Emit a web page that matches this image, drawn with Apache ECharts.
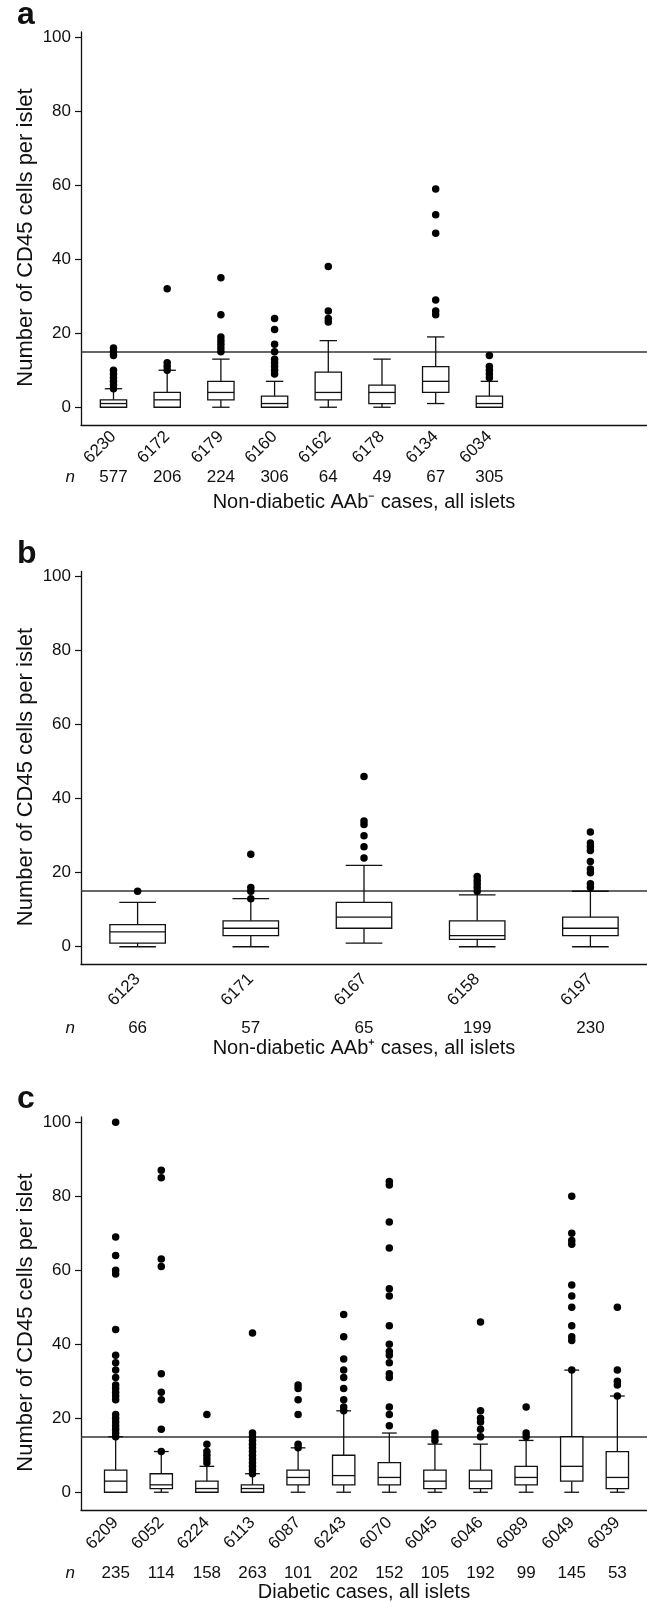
<!DOCTYPE html>
<html><head><meta charset="utf-8">
<script src="https://cdn.jsdelivr.net/npm/echarts@6/dist/echarts.min.js"></script>
<style>html,body{margin:0;padding:0;background:#fff}#c{width:647px;height:1602px}</style>
</head><body><div id="c"></div>
<script>
// ---------- DATA ----------
// box = [lower whisker, Q1, median, Q3, upper whisker]
const casesA = ['6230','6172','6179','6160','6162','6178','6134','6034'];
const nA = [577,206,224,306,64,49,67,305];
const boxesA = [
  [0,0,1,2,5],[0,0,2,4,10],[0,2,4,7,13],[0,0,1,3,7],
  [0,2,4,9.5,18],[0,1,4,6,13],[1,4,7,11,19],[0,0,1,3,7]
];
const outliersA = [
  [5,6,7,8,9,10,14,15,16],[10,11,12,32],[15,16,17,18,19,25,35],[9,10,11,12,13,15,17,21,24],
  [23,24,26,38],[],[25,26,29,47,52,59],[8,9,10,11,14]
];
const titleA = 'Non-diabetic AAb\u207B cases, all islets';

const casesB = ['6123','6171','6167','6158','6197'];
const nB = [66,57,65,199,230];
const boxesB = [[0,1,4,6,12],[0,3,5,7,13],[1,5,8,12,22],[0,2,3,7,14],[0,3,5,8,15]];
const outliersB = [
  [15],[13,15,16,25],[24,27,30,33,34,46],[15,16,17,18,19],[16,17,20,21,23,26,27,28,31]
];
const titleB = 'Non-diabetic AAb\u207A cases, all islets';

const casesC = ['6209','6052','6224','6113','6087','6243','6070','6045','6046','6089','6049','6039'];
const nC = [235,114,158,263,101,202,152,105,192,99,145,53];
const boxesC = [
  [0,0,3,6,15],[0,1,2,5,11],[0,0,1,3,7],[0,0,1,2,5],[0,2,4,6,12],[0,2,4.5,10,22],
  [0,2,4,8,16],[0,1,3,6,13],[0,1,3,6,13],[0,2,4,7,14],[0,3,7,15,33],[0,1,4,11,26]
];
const outliersC = [
  [15,16,17,18,19,20,21,25,26,27,28,29,31,33,35,37,44,59,60,64,69,100],
  [11,17,25,27,32,61,63,85,87],
  [8,9,10,11,13,21],
  [5,6,7,8,9,10,11,12,13,14,15,16,43],
  [12,13,21,25,28,29],
  [22,23,25,28,31,33,36,42,48],
  [18,21,23,31,32,35,37,38,40,45,53,55,66,73,83,84],
  [14,15,16],
  [15,17,19,20,22,46],
  [15,16,23],
  [33,41,42,45,50,53,56,67,68,70,80],
  [26,29,30,33,50]
];
const titleC = 'Diabetic cases, all islets';

const yTicks = [0,20,40,60,80,100];
const threshold = 15;
const yName = 'Number of CD45 cells per islet';
const letters = ['a','b','c'];

// ---------- LAYOUT ----------
const FF = '"Liberation Sans", Arial, Helvetica, sans-serif';
const INK = '#111';
const panels = [
  {cases:casesA, n:nA, boxes:boxesA, out:outliersA, title:titleA,
   top:32, xMin:0.395, xMax:10.935, idMargin:9, nOffset:52, titleGap:67, letterY:15.5},
  {cases:casesB, n:nB, boxes:boxesB, out:outliersB, title:titleB,
   top:571.5, xMin:0.5, xMax:5.5, idMargin:12, nOffset:64, titleGap:74, letterY:553.8},
  {cases:casesC, n:nC, boxes:boxesC, out:outliersC, title:titleC,
   top:1117, xMin:0.24, xMax:12.65, idMargin:10, nOffset:63, titleGap:72, letterY:1098.8}
];

function renderBox(params, api) {
  const x = api.value(0);
  const lo = api.coord([x, api.value(1)]);
  const q1 = api.coord([x, api.value(2)]);
  const med = api.coord([x, api.value(3)]);
  const q3 = api.coord([x, api.value(4)]);
  const hi = api.coord([x, api.value(5)]);
  const band = api.size([1, 0])[0];
  const w = band * 0.49, hw = w / 2, cw = w * 0.33;
  const cx = lo[0];
  const st = {stroke: INK, lineWidth: 1.3, fill: null};
  return {type: 'group', children: [
    {type: 'line', shape: {x1: cx, y1: hi[1], x2: cx, y2: q3[1]}, style: st},
    {type: 'line', shape: {x1: cx, y1: q1[1], x2: cx, y2: lo[1]}, style: st},
    {type: 'line', shape: {x1: cx - cw, y1: hi[1], x2: cx + cw, y2: hi[1]}, style: st},
    {type: 'line', shape: {x1: cx - cw, y1: lo[1], x2: cx + cw, y2: lo[1]}, style: st},
    {type: 'rect', shape: {x: cx - hw, y: q3[1], width: w, height: q1[1] - q3[1]},
     style: {stroke: INK, lineWidth: 1.3, fill: '#fff'}},
    {type: 'line', shape: {x1: cx - hw, y1: med[1], x2: cx + hw, y2: med[1]}, style: st}
  ]};
}

const grid = [], xAxis = [], yAxis = [], series = [], graphic = [];
panels.forEach((p, k) => {
  grid.push({left: 81, right: 0, top: p.top, height: 393, outerBoundsMode: 'none', containLabel: false});
  const idx = (i) => p.cases[Math.round(i) - 1] || '';
  const nIdx = (i) => { const v = p.n[Math.round(i) - 1]; return v == null ? '' : String(v); };
  const xs = p.cases.map((c, i) => i + 1);
  xAxis.push({
    type: 'value', gridIndex: k, min: p.xMin, max: p.xMax, position: 'bottom',
    splitLine: {show: false}, axisTick: {show: false},
    axisLine: {show: true, onZero: false, lineStyle: {color: INK, width: 1.3}},
    axisLabel: {customValues: xs, formatter: idx, rotate: 45, margin: p.idMargin,
      fontSize: 17, color: INK, fontFamily: FF, hideOverlap: false, showMinLabel: true, showMaxLabel: true},
    name: p.title, nameLocation: 'middle', nameGap: p.titleGap, nameMoveOverlap: false,
    nameTextStyle: {fontSize: 20, color: INK, fontFamily: FF}
  });
  xAxis.push({
    type: 'value', gridIndex: k, min: p.xMin, max: p.xMax, position: 'bottom', offset: p.nOffset,
    splitLine: {show: false}, axisTick: {show: false}, axisLine: {show: false, onZero: false},
    axisLabel: {customValues: xs, formatter: nIdx, margin: 0, verticalAlign: 'middle',
      fontSize: 17, color: INK, fontFamily: FF, hideOverlap: false, showMinLabel: true, showMaxLabel: true},
    name: 'n', nameLocation: 'start', nameGap: 6, nameMoveOverlap: false,
    nameTextStyle: {fontSize: 17, fontStyle: 'italic', color: INK, fontFamily: FF, verticalAlign: 'middle'}
  });
  yAxis.push({
    type: 'value', gridIndex: k, min: -4.8, max: 101.4,
    splitLine: {show: false},
    axisLine: {show: true, onZero: false, lineStyle: {color: INK, width: 1.3}},
    axisTick: {show: true, length: 6, customValues: yTicks, lineStyle: {color: INK, width: 1.2}},
    axisLabel: {customValues: yTicks, margin: 10, fontSize: 17, color: INK, fontFamily: FF,
      showMinLabel: true, showMaxLabel: true},
    name: yName, nameLocation: 'middle', nameGap: 44, nameMoveOverlap: false,
    nameTextStyle: {fontSize: 22, color: INK, fontFamily: FF, padding: [0, 18, 0, 0]}
  });
  series.push({
    type: 'custom', xAxisIndex: k * 2, yAxisIndex: k, renderItem: renderBox,
    encode: {x: 0, y: [1, 2, 3, 4, 5]}, silent: true, z: 2,
    data: p.boxes.map((b, i) => [i + 1].concat(b))
  });
  const pts = [];
  p.out.forEach((arr, i) => arr.forEach(v => pts.push([i + 1, v])));
  series.push({
    type: 'scatter', xAxisIndex: k * 2, yAxisIndex: k, symbolSize: 7.5, z: 3, silent: true,
    itemStyle: {color: '#000', opacity: 1}, data: pts,
    markLine: {silent: true, symbol: 'none', label: {show: false}, z: 1,
      lineStyle: {color: '#333', width: 1.6, type: 'solid', opacity: 1}, data: [{yAxis: threshold}]}
  });
  graphic.push({type: 'text', left: 17, top: p.letterY - 16,
    style: {text: letters[k], font: 'bold 32px ' + FF, fill: '#111'}});
});

const chart = echarts.init(document.getElementById('c'), null, {renderer: 'canvas'});
chart.setOption({animation: false, backgroundColor: '#fff', textStyle: {fontFamily: FF},
  grid, xAxis, yAxis, series, graphic});
</script></body></html>
